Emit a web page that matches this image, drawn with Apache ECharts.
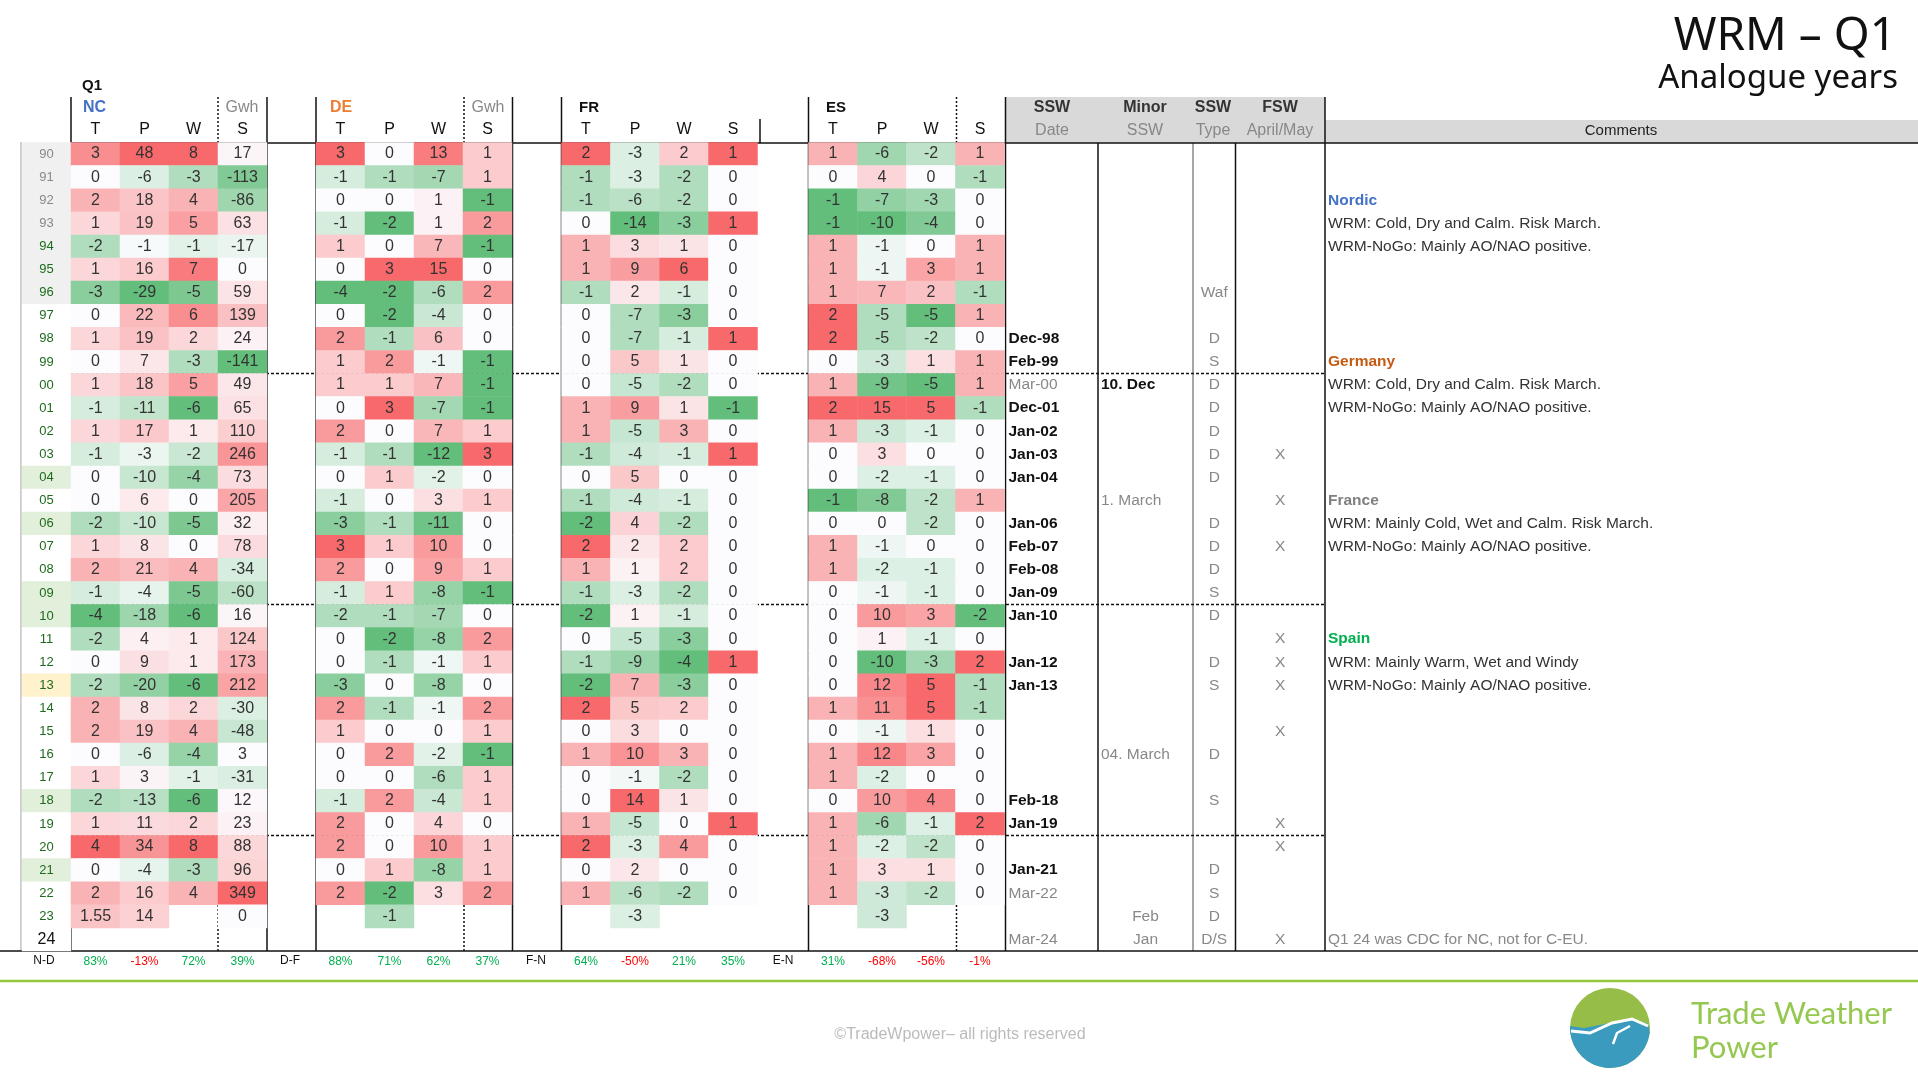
<!DOCTYPE html>
<html>
<head>
<meta charset="utf-8">
<script src="https://cdn.jsdelivr.net/npm/echarts@6/dist/echarts.min.js"></script>
<style>html,body{margin:0;padding:0;background:#fff}#chart{width:1918px;height:1079px}</style>
</head>
<body>
<div id="chart"></div>
<script>
// Q1 analogue years - heat table
var years = ['90','91','92','93','94','95','96','97','98','99','00','01','02','03','04','05','06','07','08','09',
  '10','11','12','13','14','15','16','17','18','19','20','21','22','23','24'];
var cols = ['T', 'P', 'W', 'S'];
var _ = null;

var ncT = [3,0,2,1,-2,1,-3,0,1,0, 1,-1,1,-1,0,0,-2,1,2,-1, -4,-2,0,-2,2,2,0,1,-2,1, 4,0,2,1.55,_];
var ncP = [48,-6,18,19,-1,16,-29,22,19,7, 18,-11,17,-3,-10,6,-10,8,21,-4, -18,4,9,-20,8,19,-6,3,-13,11, 34,-4,16,14,_];
var ncW = [8,-3,4,5,-1,7,-5,6,2,-3, 5,-6,1,-2,-4,0,-5,0,4,-5, -6,1,1,-6,2,4,-4,-1,-6,2, 8,-3,4,_,_];
var ncS = [17,-113,-86,63,-17,0,59,139,24,-141, 49,65,110,246,73,205,32,78,-34,-60, 16,124,173,212,-30,-48,3,-31,12,23, 88,96,349,0,_];

var deT = [3,-1,0,-1,1,0,-4,0,2,1, 1,0,2,-1,0,-1,-3,3,2,-1, -2,0,0,-3,2,1,0,0,-1,2, 2,0,2,_,_];
var deP = [0,-1,0,-2,0,3,-2,-2,-1,2, 1,3,0,-1,1,0,-1,1,0,1, -1,-2,-1,0,-1,0,2,0,2,0, 0,1,-2,-1,_];
var deW = [13,-7,1,1,7,15,-6,-4,6,-1, 7,-7,7,-12,-2,3,-11,10,9,-8, -7,-8,-1,-8,-1,0,-2,-6,-4,4, 10,-8,3,_,_];
var deS = [1,1,-1,2,-1,0,2,0,0,-1, -1,-1,1,3,0,1,0,0,1,-1, 0,2,1,0,2,1,-1,1,1,0, 1,1,2,_,_];

var frT = [2,-1,-1,0,1,1,-1,0,0,0, 0,1,1,-1,0,-1,-2,2,1,-1, -2,0,-1,-2,2,0,1,0,0,1, 2,0,1,_,_];
var frP = [-3,-3,-6,-14,3,9,2,-7,-7,5, -5,9,-5,-4,5,-4,4,2,1,-3, 1,-5,-9,7,5,3,10,-1,14,-5, -3,2,-6,-3,_];
var frW = [2,-2,-2,-3,1,6,-1,-3,-1,1, -2,1,3,-1,0,-1,-2,2,2,-2, -1,-3,-4,-3,2,0,3,-2,1,0, 4,0,-2,_,_];
var frS = [1,0,0,1,0,0,0,0,1,0, 0,-1,0,1,0,0,0,0,0,0, 0,0,1,0,0,0,0,0,0,1, 0,0,0,_,_];

var esT = [1,0,-1,-1,1,1,1,2,2,0, 1,2,1,0,0,-1,0,1,1,0, 0,0,0,0,1,0,1,1,0,1, 1,1,1,_,_];
var esP = [-6,4,-7,-10,-1,-1,7,-5,-5,-3, -9,15,-3,3,-2,-8,0,-1,-2,-1, 10,1,-10,12,11,-1,12,-2,10,-6, -2,3,-3,-3,_];
var esW = [-2,0,-3,-4,0,3,2,-5,-2,1, -5,5,-1,0,-1,-2,-2,0,-1,-1, 3,-1,-3,5,5,1,3,0,4,-1, -2,1,-2,_,_];
var esS = [1,-1,0,0,1,1,-1,1,0,1, 1,-1,0,0,0,1,0,0,0,0, -2,0,2,-1,-1,0,0,0,0,2, 0,0,0,_,_];

var ncPct = ['83%', '-13%', '72%', '39%'];
var dePct = ['88%', '71%', '62%', '37%'];
var frPct = ['64%', '-50%', '21%', '35%'];
var esPct = ['31%', '-68%', '-56%', '-1%'];

var sswDate = ['','','','','','','','','Dec-98','Feb-99','Mar-00','Dec-01','Jan-02','Jan-03','Jan-04','','Jan-06','Feb-07','Feb-08','Jan-09',
  'Jan-10','','Jan-12','Jan-13','','','','','Feb-18','Jan-19','','Jan-21','Mar-22','','Mar-24'];
var minorSsw = ['','','','','','','','','','','10. Dec','','','','','1. March','','','','',
  '','','','','','','04. March','','','','','','','Feb','Jan'];
var sswType = ['','','','','','','Waf','','D','S','D','D','D','D','D','','D','D','D','S',
  'D','','D','S','','','D','','S','','','D','S','D','D/S'];
var fswAM = ['','','','','','','','','','','','','','X','','X','','X','','',
  '','X','X','X','','X','','','','X','X','','','','X'];
var comments = ['','','Nordic','WRM: Cold, Dry and Calm. Risk March.','WRM-NoGo: Mainly AO/NAO positive.','','','','','Germany',
  'WRM: Cold, Dry and Calm. Risk March.','WRM-NoGo: Mainly AO/NAO positive.','','','','France','WRM: Mainly Cold, Wet and Calm. Risk March.','WRM-NoGo: Mainly AO/NAO positive.','','',
  '','Spain','WRM: Mainly Warm, Wet and Windy','WRM-NoGo: Mainly AO/NAO positive.','','','','','','','','','','','Q1 24 was CDC for NC, not for C-EU.'];

var FONT = 'Liberation Sans, Arial, sans-serif';
var TOP = 142.5, ROWH = 23.1, H = ROWH * years.length;

// 3-colour scale: green (min) - white (0) - red (max)
function lerp(a, b, t) {
  return a.map(function (v, i) { return Math.round(v + (b[i] - v) * t); });
}
function scaleColor(arr) {
  var vals = arr.filter(function (v) { return v !== null; });
  var mn = Math.min.apply(null, vals), mx = Math.max.apply(null, vals), md = 0;
  var G = [99, 190, 123], W = [252, 252, 255], R = [248, 105, 107];
  return function (v) {
    var c;
    if (v <= md) c = lerp(W, G, md === mn ? 0 : (md - v) / (md - mn));
    else c = lerp(W, R, mx === md ? 0 : (v - md) / (mx - md));
    return 'rgb(' + c.join(',') + ')';
  };
}

var blocks = [
  { name: 'NC', left: 71, cols: [ncT, ncP, ncW, ncS], pct: ncPct },
  { name: 'DE', left: 316, cols: [deT, deP, deW, deS], pct: dePct },
  { name: 'FR', left: 561.5, cols: [frT, frP, frW, frS], pct: frPct },
  { name: 'ES', left: 808.5, cols: [esT, esP, esW, esS], pct: esPct }
];

var grid = [], xAxis = [], yAxis = [], series = [];
function yCat(gi) {
  return { type: 'category', gridIndex: gi, data: years, inverse: true, show: false };
}

// year column
grid.push({ left: 22, top: TOP, width: 49, height: H });
xAxis.push({ type: 'category', gridIndex: 0, data: ['yr'], show: false });
yAxis.push(yCat(0));
var yearBg = { '90': '#f0f0f0', '91': '#f0f0f0', '92': '#f0f0f0', '93': '#f0f0f0', '94': '#f0f0f0', '95': '#f0f0f0', '96': '#f0f0f0',
  '04': '#e2efda', '06': '#e2efda', '09': '#e2efda', '10': '#e2efda', '18': '#e2efda', '21': '#e2efda', '13': '#fff2cc' };
series.push({
  type: 'heatmap', xAxisIndex: 0, yAxisIndex: 0,
  data: years.map(function (y, i) {
    var grey = i < 4, last = y === '24';
    return {
      value: [0, i, 0],
      itemStyle: { color: yearBg[y] || '#fff' },
      label: { color: last ? '#111' : (grey ? '#888' : '#1e6b1e'), fontSize: last ? 16 : 13 }
    };
  }),
  label: { show: true, fontFamily: FONT, formatter: function (p) { return years[p.data.value[1]]; } },
  emphasis: { disabled: true }
});

// heat blocks
blocks.forEach(function (b) {
  var gi = grid.length;
  grid.push({ left: b.left, top: TOP, width: 196, height: H });
  xAxis.push({
    type: 'category', gridIndex: gi, data: cols, position: 'top',
    axisLine: { show: false }, axisTick: { show: false },
    axisLabel: { color: '#111', fontSize: 16, fontFamily: FONT, margin: 5 }
  });
  xAxis.push({
    type: 'category', gridIndex: gi, position: 'bottom',
    data: b.pct.map(function (p) {
      return { value: p, textStyle: { color: p.charAt(0) === '-' ? '#ff0000' : '#00b050' } };
    }),
    axisLine: { show: false }, axisTick: { show: false },
    axisLabel: { fontSize: 12, fontFamily: FONT, margin: 5 }
  });
  yAxis.push(yCat(gi));
  var data = [];
  b.cols.forEach(function (arr, ci) {
    var col = scaleColor(arr);
    arr.forEach(function (v, ri) {
      if (v === null) return;
      data.push({ value: [ci, ri, v], itemStyle: { color: col(v) } });
    });
  });
  series.push({
    type: 'heatmap', xAxisIndex: xAxis.length - 2, yAxisIndex: gi, data: data,
    label: { show: true, color: '#333', fontSize: 16, fontFamily: FONT,
      formatter: function (p) { return String(p.data.value[2]); } },
    emphasis: { disabled: true }
  });
});

// text columns on the right
var textCols = [
  { left: 1005.5, width: 92.5, arr: sswDate, align: function () { return 'left'; },
    style: function (t) { return /^Mar/.test(t) ? { fill: '#888', fontWeight: 'normal' } : { fill: '#111', fontWeight: 'bold' }; } },
  { left: 1098, width: 95, arr: minorSsw, align: function (t) { return t.length < 4 ? 'center' : 'left'; },
    style: function (t) { return t === '10. Dec' ? { fill: '#111', fontWeight: 'bold' } : { fill: '#888', fontWeight: 'normal' }; } },
  { left: 1193, width: 42.5, arr: sswType, align: function () { return 'center'; }, style: function () { return { fill: '#888' }; } },
  { left: 1235.5, width: 89.5, arr: fswAM, align: function () { return 'center'; }, style: function () { return { fill: '#888' }; } },
  { left: 1325, width: 593, arr: comments, align: function () { return 'left'; },
    style: function (t) {
      var heads = { Nordic: '#4472c4', Germany: '#c55a11', France: '#7f7f7f', Spain: '#00b050' };
      if (heads[t]) return { fill: heads[t], fontWeight: 'bold' };
      if (/^Q1 24/.test(t)) return { fill: '#888' };
      return { fill: '#333' };
    } }
];
textCols.forEach(function (tc) {
  var gi = grid.length;
  grid.push({ left: tc.left, top: TOP, width: tc.width, height: H });
  xAxis.push({ type: 'category', gridIndex: gi, data: ['c'], show: false });
  yAxis.push(yCat(gi));
  var data = [];
  tc.arr.forEach(function (t, ri) { if (t) data.push([0, ri, t]); });
  series.push({
    type: 'custom', xAxisIndex: xAxis.length - 1, yAxisIndex: gi, data: data, clip: false,
    renderItem: function (params, api) {
      var p = api.coord([api.value(0), api.value(1)]);
      var w = api.size([1, 0])[0];
      var t = tc.arr[api.value(1)];
      var st = tc.style(t), al = tc.align(t);
      return {
        type: 'text',
        x: al === 'left' ? p[0] - w / 2 + 3 : p[0],
        y: p[1],
        style: {
          text: t, fill: st.fill, fontWeight: st.fontWeight || 'normal',
          fontSize: 15.5, fontFamily: FONT,
          align: al, verticalAlign: 'middle'
        }
      };
    }
  });
});

// frame lines and header text
function vline(x, y1, y2, color, dashed) {
  return { type: 'line', shape: { x1: x, y1: y1, x2: x, y2: y2 },
    style: { stroke: color || '#111', lineWidth: 1.5, lineDash: dashed ? [2, 2] : null } };
}
function hline(y, x1, x2, color, dashed, w) {
  return { type: 'line', shape: { x1: x1, y1: y, x2: x2, y2: y },
    style: { stroke: color || '#111', lineWidth: w || 1.5, lineDash: dashed ? [3, 2] : null } };
}
function txt(x, y, t, opt) {
  opt = opt || {};
  return { type: 'text', x: x, y: y, style: { text: t, fill: opt.fill || '#111',
    fontWeight: opt.bold ? 'bold' : 'normal', fontSize: opt.size || 16, fontFamily: opt.family || FONT,
    align: opt.align || 'left', verticalAlign: 'middle' } };
}
var BOT = TOP + H;
var g = [
  { type: 'rect', shape: { x: 1005.5, y: 97, width: 319.5, height: 46 }, style: { fill: '#d9d9d9' } },
  { type: 'rect', shape: { x: 1325, y: 120, width: 593, height: 23 }, style: { fill: '#d9d9d9' } },
  vline(71, 97, BOT), vline(218, 97, BOT, '#111', true), vline(267, 97, BOT),
  vline(316, 97, BOT), vline(464, 97, BOT, '#111', true), vline(512.5, 97, BOT),
  vline(561.5, 97, BOT), vline(760, 119, 143),
  vline(808.5, 97, BOT), vline(956.5, 97, BOT, '#111', true), vline(1005.5, 97, BOT),
  vline(1098, 143, BOT), vline(1193, 143, BOT, '#888'), vline(1235.5, 143, BOT), vline(1325, 97, BOT),
  vline(21, 142, BOT, '#bbb'),
  hline(143, 71, 1918), hline(BOT, 0, 1918),
  hline(TOP + 10 * ROWH, 71, 1325, '#111', true), hline(TOP + 20 * ROWH, 71, 1325, '#111', true),
  hline(TOP + 30 * ROWH, 71, 1325, '#111', true),
  hline(981, 0, 1918, '#92c83e', false, 2.5),
  txt(82, 86, 'Q1', { bold: true, size: 15 }),
  txt(83, 108, 'NC', { bold: true, fill: '#4472c4' }), txt(242, 108, 'Gwh', { fill: '#888', align: 'center' }),
  txt(330, 108, 'DE', { bold: true, fill: '#ed7d31' }), txt(488, 108, 'Gwh', { fill: '#888', align: 'center' }),
  txt(579, 108, 'FR', { bold: true, size: 15 }), txt(826, 108, 'ES', { bold: true, size: 15 }),
  txt(1052, 108, 'SSW', { bold: true, fill: '#333', align: 'center' }), txt(1052, 131, 'Date', { fill: '#888', align: 'center' }),
  txt(1145, 108, 'Minor', { bold: true, fill: '#333', align: 'center' }), txt(1145, 131, 'SSW', { fill: '#888', align: 'center' }),
  txt(1213, 108, 'SSW', { bold: true, fill: '#333', align: 'center' }), txt(1213, 131, 'Type', { fill: '#888', align: 'center' }),
  txt(1280, 108, 'FSW', { bold: true, fill: '#333', align: 'center' }), txt(1280, 131, 'April/May', { fill: '#888', align: 'center' }),
  txt(1621, 131, 'Comments', { fill: '#222', align: 'center', size: 15 }),
  txt(44, 961, 'N-D', { size: 12, align: 'center' }), txt(290, 961, 'D-F', { size: 12, align: 'center' }),
  txt(536, 961, 'F-N', { size: 12, align: 'center' }), txt(783, 961, 'E-N', { size: 12, align: 'center' }),
  txt(1896, 37, 'WRM \u2013 Q1', { size: 46, align: 'right', family: 'Noto Sans, sans-serif' }),
  txt(1898, 79, 'Analogue years', { size: 33, align: 'right', family: 'Noto Sans, sans-serif' }),
  txt(960, 1035, '\u00a9TradeWpower\u2013 all rights reserved', { size: 16, fill: '#bbb', align: 'center' }),
  // logo
  { type: 'circle', shape: { cx: 1610, cy: 1028, r: 40 }, style: { fill: '#95bd47' } },
  { type: 'sector', shape: { cx: 1610, cy: 1028, r: 40, startAngle: 0.12, endAngle: Math.PI - 0.12 }, style: { fill: '#3b9bbf' } },
  { type: 'polygon', shape: { points: [[1570, 1033], [1650, 1033], [1648, 1024], [1630, 1018], [1605, 1024], [1584, 1028], [1570, 1026]] },
    style: { fill: '#3b9bbf' } },
  { type: 'polyline', shape: { points: [[1571, 1031], [1590, 1033], [1612, 1023], [1632, 1019], [1648, 1026]] },
    style: { stroke: '#fff', lineWidth: 3, fill: null } },
  { type: 'polyline', shape: { points: [[1613, 1044], [1617, 1033], [1630, 1026]] }, style: { stroke: '#fff', lineWidth: 2.5, fill: null } },
  txt(1691, 1014, 'Trade Weather', { size: 31, fill: '#95c850', family: 'Lato, sans-serif' }),
  txt(1691, 1048, 'Power', { size: 31, fill: '#95c850', family: 'Lato, sans-serif' })
];

var chart = echarts.init(document.getElementById('chart'));
chart.setOption({
  animation: false,
  backgroundColor: '#fff',
  grid: grid, xAxis: xAxis, yAxis: yAxis, series: series,
  graphic: g
});
window.addEventListener('resize', function () { chart.resize(); });
</script>
</body>
</html>
